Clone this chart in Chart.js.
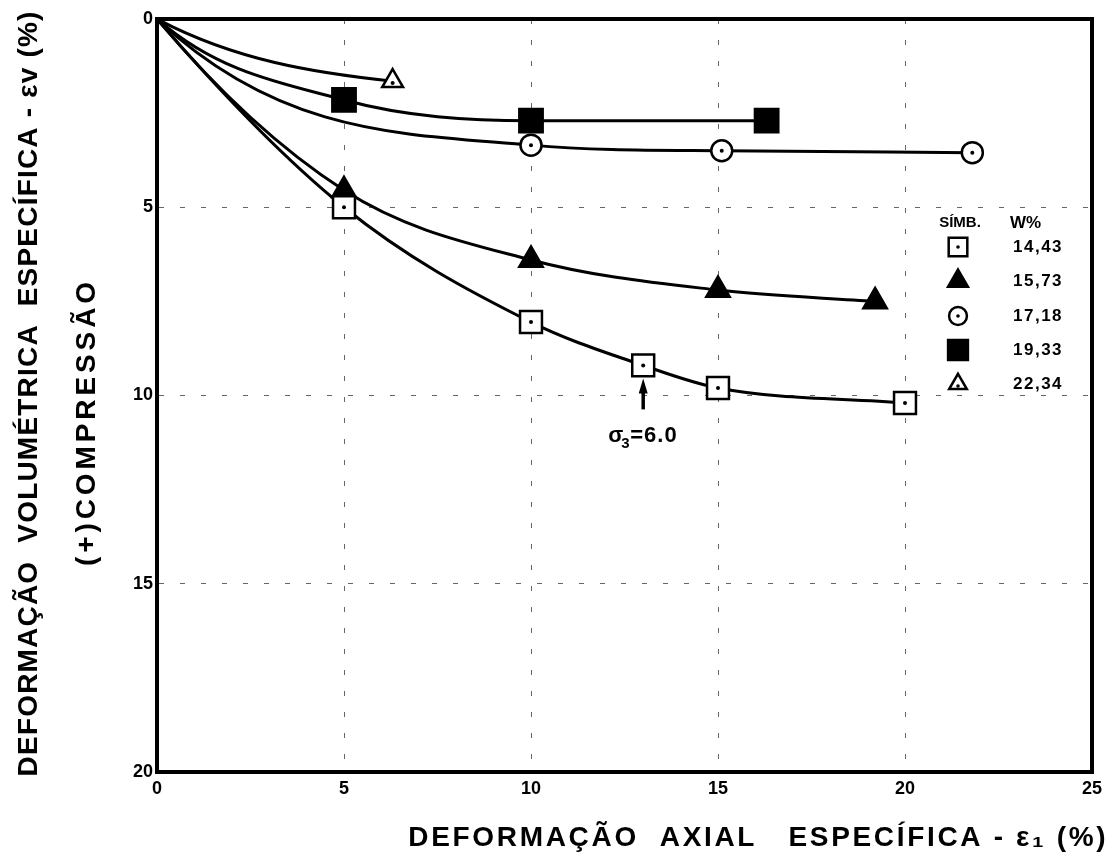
<!DOCTYPE html>
<html><head><meta charset="utf-8">
<script src="https://cdn.jsdelivr.net/npm/chart.js@4"></script>
<style>html,body{margin:0;padding:0;background:#fff}</style>
</head><body>
<canvas id="c" width="1114" height="867"></canvas>
<script>
// ---- data ----
const legendValues = ['14,43', '15,73', '17,18', '19,33', '22,34'];
const xTicks = [0, 5, 10, 15, 20, 25];
const yTicks = [0, 5, 10, 15, 20];

const x1443 = [0, 5, 10, 13, 15, 20];
const y1443 = [0, 5.0, 8.05, 9.2, 9.8, 10.2];
const x1573 = [0, 5, 10, 15, 19.2];
const y1573 = [0, 4.55, 6.4, 7.2, 7.5];
const x1718 = [0, 10, 15.1, 21.8];
const y1718 = [0, 3.35, 3.5, 3.55];
const x1933 = [0, 5, 10, 16.3];
const y1933 = [0, 2.15, 2.7, 2.7];
const x2234 = [0, 6.3];
const y2234 = [0, 1.65];

const sigmaX = 13, sigmaY = 9.2;

function pts(xs, ys) { return xs.map((x, i) => ({ x: x, y: ys[i] })); }
function radii(n, r) { return Array.from({ length: n }, (_, i) => i === 0 ? 0 : r); }

const FONT = "'Liberation Sans', 'DejaVu Sans', sans-serif";
const NARROW = "'Liberation Sans Narrow', 'Liberation Sans', 'DejaVu Sans Condensed', sans-serif";

// marker styles + how steeply each drawn curve leaves the origin (curve shape only)
const styles = [
  { style: 'rect', r: 15.5, fill: '#fff', dot: true, k: 1.15, kEnd: 1 },
  { style: 'triangle', r: 13.5, fill: '#000', dot: false, k: 1.3, kEnd: 1 },
  { style: 'circle', r: 10.5, fill: '#fff', dot: true, k: 2.8, kEnd: 1 },
  { style: 'rect', r: 16.5, fill: '#000', dot: false, k: 2.0, kEnd: 1 },
  { style: 'triangle', r: 12, fill: '#fff', dot: true, k: 2.0, kEnd: 0.4 }
];
const xsAll = [x1443, x1573, x1718, x1933, x2234];
const ysAll = [y1443, y1573, y1718, y1933, y2234];

const datasets = xsAll.map((xs, i) => ({
  label: legendValues[i],
  data: pts(xs, ysAll[i]),
  showLine: true,
  borderColor: '#000',
  borderWidth: 3,
  pointBorderWidth: 2.5,
  pointBorderColor: '#000',
  pointBackgroundColor: styles[i].fill,
  pointStyle: styles[i].style,
  pointRadius: radii(xs.length, styles[i].r),
  pointHoverRadius: radii(xs.length, styles[i].r),
  cubicInterpolationMode: 'monotone',
  tension: 0.4,
  fill: false
}));

function spacedText(ctx, text, cx, cy, target) {
  ctx.letterSpacing = '0px';
  const w = ctx.measureText(text).width;
  const n = [...text].length;
  const sp = Math.max(0, (target - w) / n);
  ctx.letterSpacing = sp + 'px';
  ctx.fillText(text, cx + sp / 2, cy);
  ctx.letterSpacing = '0px';
}

const extras = {
  id: 'extras',
  beforeDatasetsDraw(chart) {
    // bend the first segment so the curve leaves the origin steeply, as in the original drawing
    chart.data.datasets.forEach((ds, i) => {
      const meta = chart.getDatasetMeta(i);
      const p = meta.data;
      if (p.length < 2) return;
      const p0 = p[0], p1 = p[1];
      const dx = p1.x - p0.x, dy = p1.y - p0.y;
      p0.cp2x = p0.x + dx / 3;
      p0.cp2y = p0.y + Math.min(dy * 0.999, styles[i].k * dy / 3);
      if (p.length === 2) {
        p1.cp1x = p1.x - dx / 3;
        p1.cp1y = p1.y - styles[i].kEnd * dy / 3;
      }
    });
  },
  afterDatasetsDraw(chart) {
    const ctx = chart.ctx;
    const xs = chart.scales.x, ys = chart.scales.y;
    const a = chart.chartArea;
    ctx.save();
    ctx.setLineDash([]);
    // dots inside open markers
    chart.data.datasets.forEach((ds, i) => {
      if (!styles[i].dot) return;
      ds.data.forEach((p, j) => {
        if (j === 0) return;
        let px = xs.getPixelForValue(p.x), py = ys.getPixelForValue(p.y);
        if (styles[i].style === 'triangle') py += 2;
        ctx.fillStyle = '#000';
        ctx.beginPath(); ctx.arc(px, py, 2, 0, Math.PI * 2); ctx.fill();
      });
    });
    // frame
    ctx.lineWidth = 4;
    ctx.strokeStyle = '#000';
    ctx.strokeRect(a.left, a.top, a.right - a.left, a.bottom - a.top);

    // legend
    const lx = 958, lv = 1013;
    ctx.fillStyle = '#000';
    ctx.font = 'bold 15px ' + FONT;
    ctx.textBaseline = 'middle';
    ctx.textAlign = 'center';
    ctx.fillText('SÍMB.', 960, 223);
    ctx.textAlign = 'left';
    ctx.font = 'bold 17px ' + FONT;
    ctx.fillText('W%', 1010, 223);
    const rowsY = [247, 281, 316, 350, 384];
    legendValues.forEach((v, i) => {
      const s = styles[i];
      ctx.lineWidth = 2.5;
      ctx.strokeStyle = '#000';
      ctx.fillStyle = s.fill;
      Chart.helpers.drawPoint(ctx, { pointStyle: s.style, radius: s.r * 0.85, rotation: 0, borderWidth: 2.5 }, lx, rowsY[i]);
      if (s.dot) {
        ctx.fillStyle = '#000';
        ctx.beginPath(); ctx.arc(lx, rowsY[i] + (s.style === 'triangle' ? 2 : 0), 1.8, 0, Math.PI * 2); ctx.fill();
      }
      ctx.fillStyle = '#000';
      ctx.font = 'bold 17px ' + FONT;
      ctx.letterSpacing = '1.5px';
      ctx.fillText(v, lv, rowsY[i]);
      ctx.letterSpacing = '0px';
    });

    // sigma annotation with arrow
    const ax = xs.getPixelForValue(sigmaX);
    const ay = ys.getPixelForValue(sigmaY);
    ctx.strokeStyle = '#000';
    ctx.lineWidth = 3.5;
    ctx.beginPath(); ctx.moveTo(ax, ay + 44); ctx.lineTo(ax, ay + 22); ctx.stroke();
    ctx.fillStyle = '#000';
    ctx.beginPath(); ctx.moveTo(ax, ay + 13); ctx.lineTo(ax - 4.5, ay + 28); ctx.lineTo(ax + 4.5, ay + 28); ctx.closePath(); ctx.fill();
    ctx.font = 'bold 22px ' + FONT;
    ctx.textAlign = 'left';
    ctx.textBaseline = 'alphabetic';
    ctx.fillText('σ', ax - 35, ay + 77);
    ctx.font = 'bold 15px ' + FONT;
    ctx.fillText('3', ax - 22, ay + 83);
    ctx.font = 'bold 22px ' + FONT;
    ctx.letterSpacing = '1px';
    ctx.fillText('=6.0', ax - 13, ay + 77);
    ctx.letterSpacing = '0px';

    // axis titles
    ctx.font = 'bold 28px ' + NARROW;
    ctx.textAlign = 'center';
    ctx.textBaseline = 'middle';
    spacedText(ctx, 'DEFORMAÇÃO  AXIAL   ESPECÍFICA - ε\u2081 (%)', 757, 838, 700);
    ctx.save();
    ctx.translate(29, 394);
    ctx.rotate(-Math.PI / 2);
    spacedText(ctx, 'DEFORMAÇÃO  VOLUMÉTRICA  ESPECÍFICA - εv (%)', 0, 0, 766);
    ctx.restore();
    ctx.save();
    ctx.translate(87, 424);
    ctx.rotate(-Math.PI / 2);
    spacedText(ctx, '(+)COMPRESSÃO', 0, 0, 288);
    ctx.restore();
    ctx.restore();
  }
};

new Chart(document.getElementById('c'), {
  type: 'scatter',
  data: { datasets: datasets },
  options: {
    responsive: false,
    animation: false,
    layout: { padding: { left: 0, right: 22, top: 13, bottom: 0 } },
    plugins: { legend: { display: false }, tooltip: { enabled: false } },
    scales: {
      x: {
        type: 'linear', min: 0, max: 25,
        afterBuildTicks(s) { s.ticks = xTicks.map(v => ({ value: v })); },
        afterFit(s) { s.height = 95; },
        border: { display: true, color: '#000', width: 4, dash: [5, 16] },
        grid: { drawOnChartArea: true, color: 'rgba(0,0,0,0.6)', lineWidth: 1, drawTicks: false },
        ticks: { color: '#000', font: { family: FONT, size: 18, weight: 'bold' }, padding: 6, maxRotation: 0 }
      },
      y: {
        type: 'linear', min: 0, max: 20, reverse: true,
        afterBuildTicks(s) { s.ticks = yTicks.map(v => ({ value: v })); },
        afterFit(s) { s.width = 157; },
        border: { display: true, color: '#000', width: 4, dash: [5, 16] },
        grid: { drawOnChartArea: true, color: 'rgba(0,0,0,0.6)', lineWidth: 1, drawTicks: false },
        ticks: { color: '#000', font: { family: FONT, size: 18, weight: 'bold' }, padding: 4 }
      }
    }
  },
  plugins: [extras]
});
</script>
</body></html>
